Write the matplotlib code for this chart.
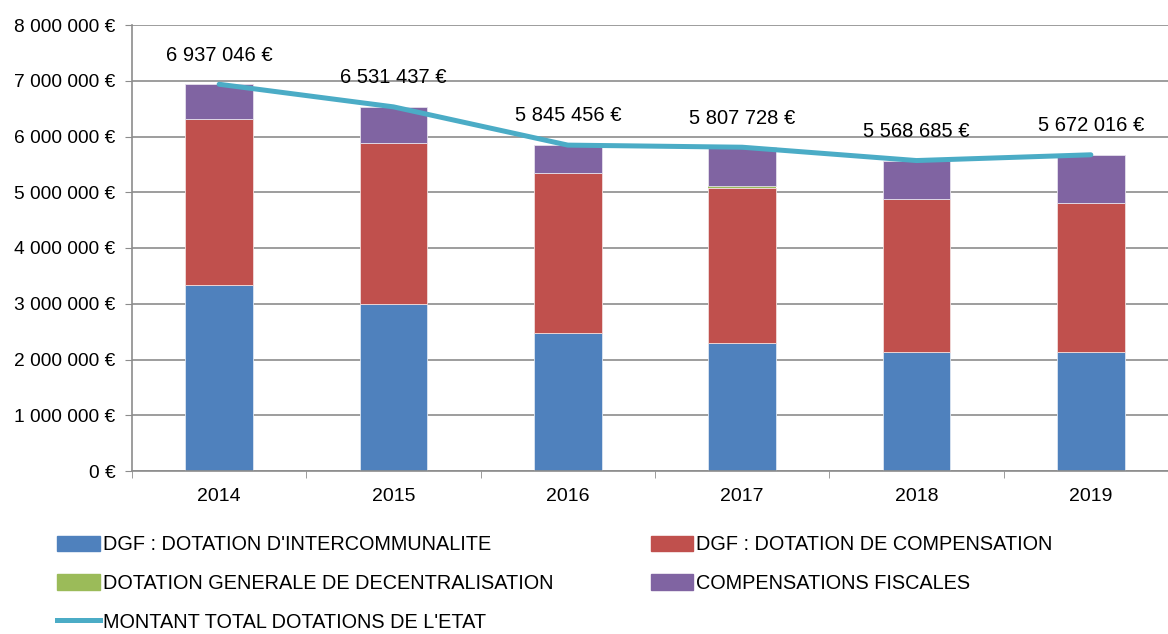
import matplotlib
matplotlib.use("Agg")
import matplotlib.pyplot as plt
import numpy as np
from matplotlib.patches import Patch
from matplotlib.lines import Line2D

plt.rcParams['font.family'] = ['Liberation Sans', 'DejaVu Sans']

years = ["2014", "2015", "2016", "2017", "2018", "2019"]
intercommunalite = [3340000, 2990000, 2480000, 2290000, 2140000, 2140000]
compensation = [2980000, 2890000, 2860000, 2790000, 2730000, 2660000]
decentralisation = [0, 0, 0, 40000, 0, 0]
fiscales = [617046, 651437, 505456, 687728, 698685, 872016]
total = [6937046, 6531437, 5845456, 5807728, 5568685, 5672016]
total_labels = ["6 937 046 €", "6 531 437 €", "5 845 456 €", "5 807 728 €", "5 568 685 €", "5 672 016 €"]
yticks = [0, 1000000, 2000000, 3000000, 4000000, 5000000, 6000000, 7000000, 8000000]
ytick_labels = ["0 €", "1 000 000 €", "2 000 000 €", "3 000 000 €", "4 000 000 €",
                "5 000 000 €", "6 000 000 €", "7 000 000 €", "8 000 000 €"]

c_blue = "#4F81BD"
c_red = "#C0504D"
c_green = "#9BBB59"
c_purple = "#8064A2"
c_line = "#4BACC6"
c_grid = "#8C8C8C"

fig = plt.figure(figsize=(11.68, 6.34), dpi=100)
ax = fig.add_axes([132 / 1168, 1 - 471 / 634, (1178 - 132) / 1168, (471 - 25) / 634])

x = np.arange(len(years))
w = 0.39
b1 = np.array(intercommunalite)
b2 = b1 + np.array(compensation)
b3 = b2 + np.array(decentralisation)
ax.bar(x, intercommunalite, w, color=c_blue, edgecolor="#DCE6F2", linewidth=0.6, zorder=2)
ax.bar(x, compensation, w, bottom=b1, color=c_red, edgecolor="#F2DCDB", linewidth=0.6, zorder=2)
ax.bar(x, decentralisation, w, bottom=b2, color=c_green, linewidth=0, zorder=2)
ax.bar(x, fiscales, w, bottom=b3, color=c_purple, edgecolor="#E5E0EC", linewidth=0.6, zorder=2)
ax.plot(x, total, color=c_line, linewidth=3.6, solid_capstyle="round", zorder=3)

for xi, v, lab in zip(x, total, total_labels):
    ax.annotate(lab, (xi, v), xytext=(0, 21), textcoords="offset points",
                ha="center", va="center", fontsize=14.5, color="black")

ax.set_xlim(-0.5, 5.5)
ax.set_ylim(0, 8000000)
ax.set_yticks(yticks)
ax.set_yticklabels(ytick_labels, fontsize=13.8)
ax.set_xticks(x)
ax.set_xticklabels(years, fontsize=14)
ax.set_xticks(np.arange(-0.5, 6, 1), minor=True)
ax.tick_params(axis="x", which="major", length=0, pad=12)
ax.tick_params(axis="x", which="minor", length=5, color=c_grid, direction="out")
ax.tick_params(axis="y", length=5, color=c_grid, direction="out", pad=7)
ax.grid(axis="y", color=c_grid, linewidth=1.2, zorder=0)
ax.set_axisbelow(True)
for s in ["top", "right"]:
    ax.spines[s].set_visible(False)
ax.spines["left"].set_color(c_grid)
ax.spines["bottom"].set_color(c_grid)
ax.spines["left"].set_linewidth(1.2)
ax.spines["bottom"].set_linewidth(1.2)

handles = [
    Patch(color=c_blue, label="DGF : DOTATION D'INTERCOMMUNALITE"),
    Patch(color=c_green, label="DOTATION GENERALE DE DECENTRALISATION"),
    Line2D([0], [0], color=c_line, linewidth=3.6, label="MONTANT TOTAL DOTATIONS DE L'ETAT"),
    Patch(color=c_red, label="DGF : DOTATION DE COMPENSATION"),
    Patch(color=c_purple, label="COMPENSATIONS FISCALES"),
]
fig.legend(handles=handles, ncol=2, loc="upper left", bbox_to_anchor=(57 / 1168, 1 - 535 / 634),
           frameon=False, fontsize=14.3, handlelength=2.15, handleheight=0.8, handletextpad=0.15,
           labelspacing=1.0, columnspacing=4.9, borderaxespad=0, borderpad=0)

fig.savefig("out.png", dpi=100)
